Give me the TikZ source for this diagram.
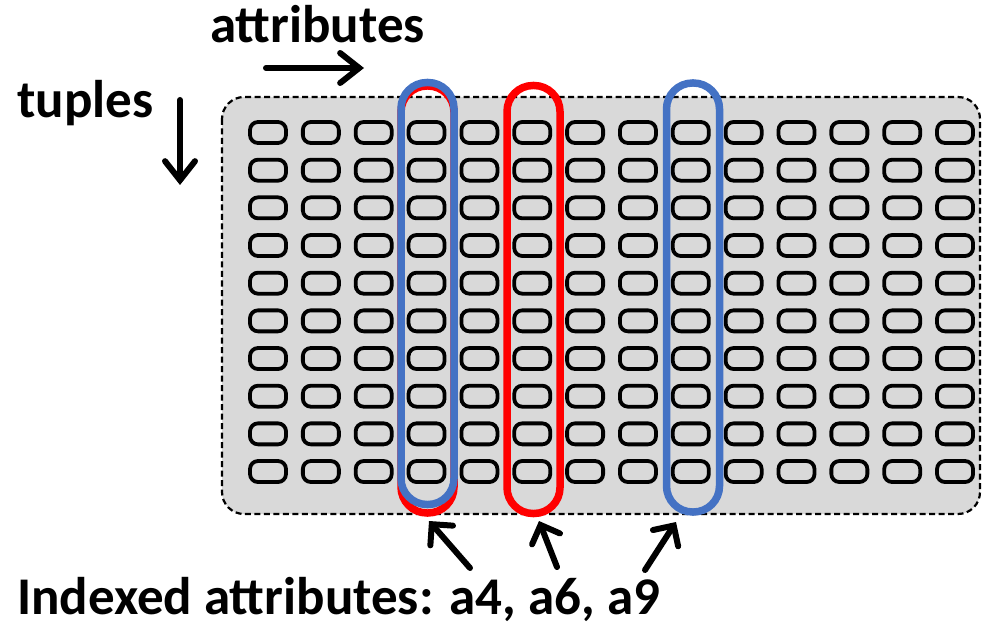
\documentclass[tikz,border=0pt]{standalone}
\usepackage{fontspec}
\setmainfont{Carlito}
\usetikzlibrary{arrows.meta}
\definecolor{ovblue}{HTML}{4472C4}
\definecolor{ovred}{HTML}{FF0000}
\definecolor{tblgray}{HTML}{D9D9D9}
\begin{document}
\begin{tikzpicture}[x=1pt,y=-1pt,
  cellbox/.style={draw=black, line width=3.8pt, rounded corners=8pt, minimum width=36pt, minimum height=21pt, inner sep=0pt},
  oval/.style={draw=#1, line width=7.5pt, rounded corners=26pt, minimum width=53pt, inner sep=0pt},
  bigarrow/.style={line width=6pt, line cap=round, -{Straight Barb[length=15pt,width=30pt,line cap=round]}},
  dirarrow/.style={line width=6pt, line cap=round, -{Straight Barb[length=19pt,width=30pt,line cap=round]}},
  lbl/.style={font=\bfseries\fontsize{53}{64}\selectfont, inner sep=0pt, anchor=base west}
]
\useasboundingbox (0,0) rectangle (982,628);
% table background
\draw[fill=tblgray, draw=black, line width=2.2pt, dash pattern=on 6pt off 3.5pt, rounded corners=22pt] (222,97) rectangle (980,514);
% cells
\foreach \c in {0,...,13}{
  \foreach \r in {0,...,9}{
    \node[cellbox] (cell-\c-\r) at ({268+52.85*\c},{132.5+37.67*\r}) {};
  }
}
% index ovals
\node[oval=ovred, minimum height=427pt] (ov4r) at (427.5,299.5) {};
\node[oval=ovblue, minimum height=422pt] (ov4) at (427.5,293.5) {};
\node[oval=ovred, minimum height=428pt] (ov6) at (533.5,299.5) {};
\node[oval=ovblue, minimum height=429pt] (ov9) at (693,297.5) {};
% labels
\node[lbl] (attr) at (210,43) {attributes};
\node[lbl] (tup) at (17,118) {tuples};
\node[lbl] (idx) at (17,614) {Indexed attributes: a4, a6, a9};
% direction arrows
\coordinate (attrA) at (266,68);
\coordinate (attrB) at (364,68);
\draw[dirarrow] (attrA) -- (attrB);
\coordinate (tupA) at (180,100);
\coordinate (tupB) at (180,185);
\draw[dirarrow] (tupA) -- (tupB);
% pointer arrows
\coordinate (p1) at (470,568);
\coordinate (q1) at (429,521);
\coordinate (p2) at (557,567);
\coordinate (q2) at (539,521);
\coordinate (p3) at (645,570);
\coordinate (q3) at (676,522);
\draw[bigarrow] (p1) -- (q1);
\draw[bigarrow] (p2) -- (q2);
\draw[bigarrow] (p3) -- (q3);
\end{tikzpicture}
\end{document}
